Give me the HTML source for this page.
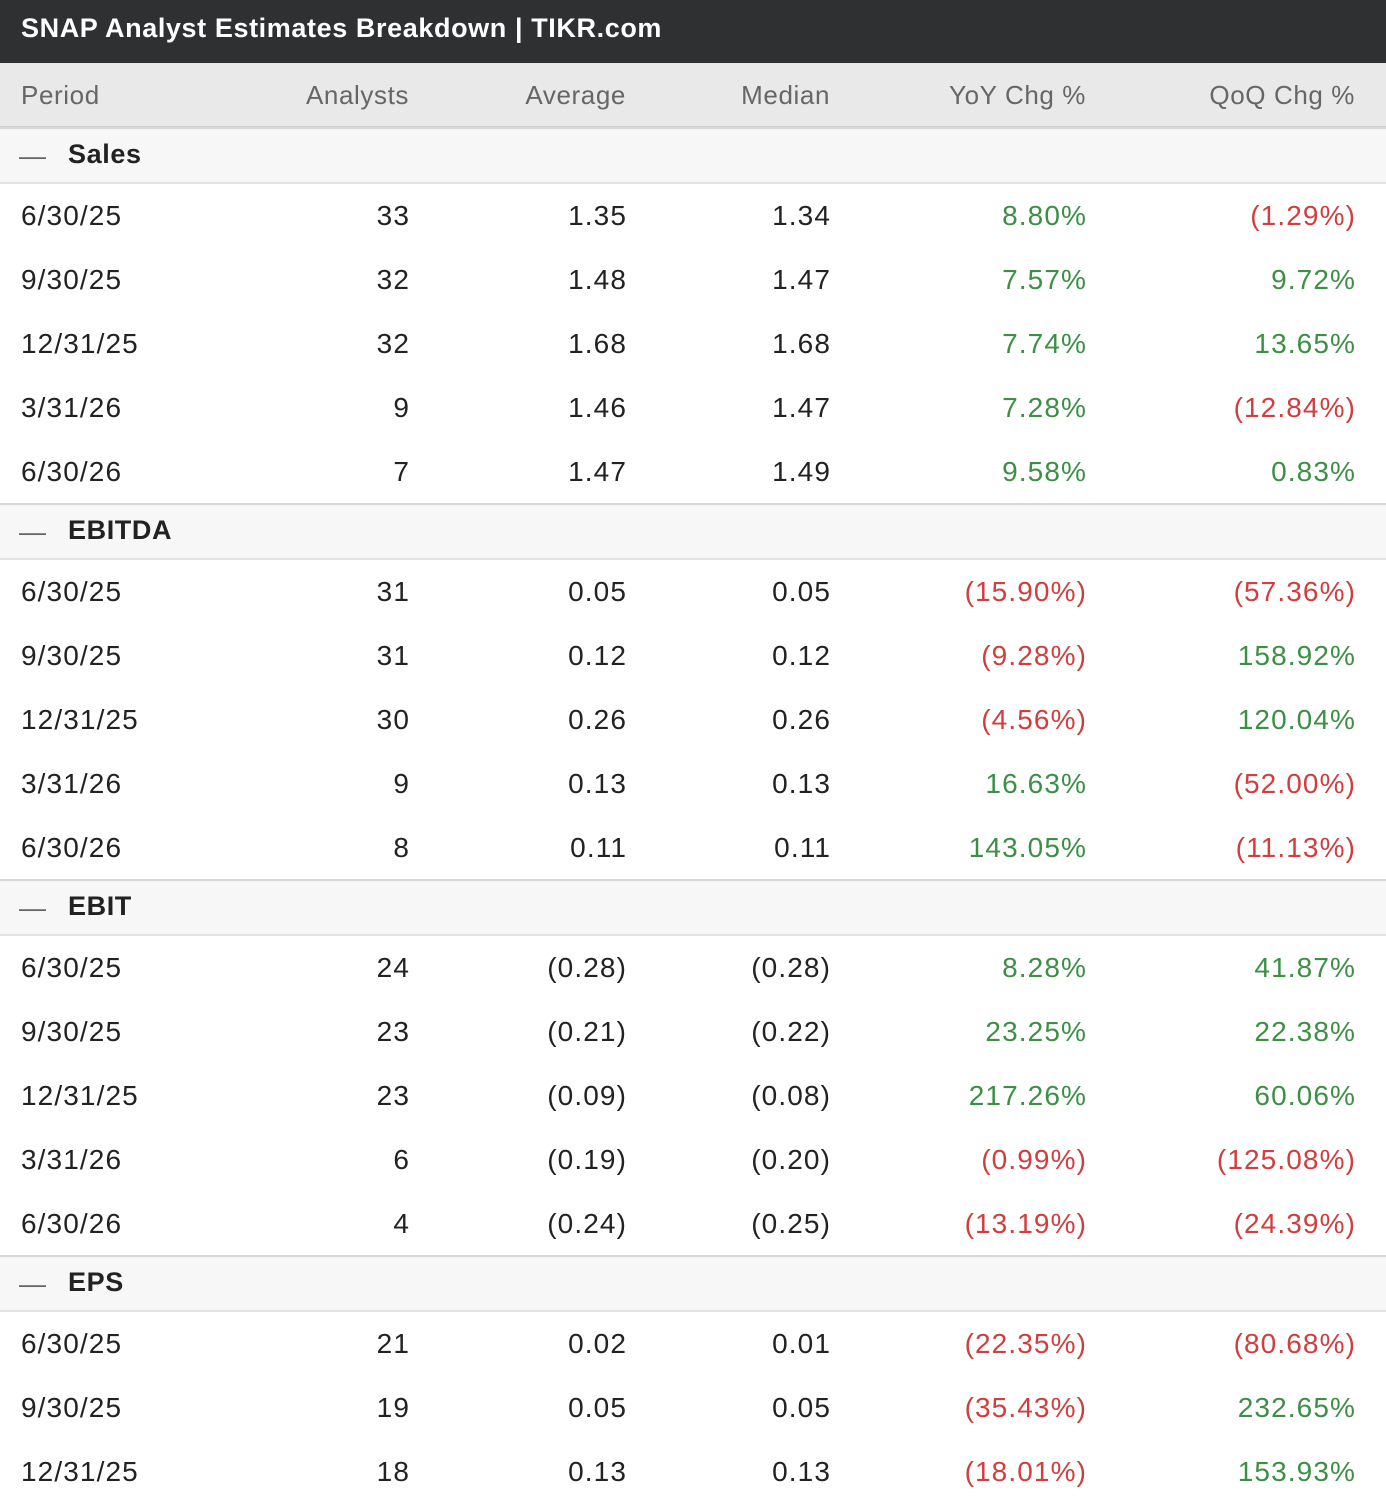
<!DOCTYPE html>
<html><head><meta charset="utf-8"><style>
body{margin:0;width:1386px;height:1498px;overflow:hidden;background:#fff;font-family:"Liberation Sans",sans-serif;position:relative}
.title{position:absolute;left:0;top:0;width:1386px;height:63px;background:#2f3032;color:#fff;font-weight:bold;font-size:27px;line-height:56px;padding-left:21px;box-sizing:border-box;letter-spacing:0.6px}
.hdr{position:absolute;left:0;top:63px;width:1386px;height:63px;background:#e9e9e9;border-bottom:2px solid #d0d0d0;color:#666;font-size:26px;letter-spacing:0.6px}
.c{position:absolute;white-space:nowrap}
.sec{position:absolute;left:0;width:1386px;height:53px;background:#f7f7f7;border-top:2px solid #d8d8d8;border-bottom:2px solid #e2e2e2;font-size:27px;font-weight:bold;color:#222}
.row{position:absolute;left:0;width:1386px;height:64px;font-size:28px;color:#222;letter-spacing:1.1px}
.g{color:#3d8f46}.r{color:#d03e3e}
</style></head><body>
<div class="title">SNAP Analyst Estimates Breakdown | TIKR.com</div>
<div class="hdr">
<span class="c" style="left:21px;top:17px">Period</span>
<span class="c" style="right:977px;top:17px">Analysts</span>
<span class="c" style="right:760px;top:17px">Average</span>
<span class="c" style="right:556px;top:17px">Median</span>
<span class="c" style="right:300px;top:17px">YoY Chg %</span>
<span class="c" style="right:31px;top:17px">QoQ Chg %</span>
</div>
<div id="body"></div>
<script>
const sections=["Sales","EBITDA","EBIT","EPS"];
const periods=[["6/30/25","9/30/25","12/31/25","3/31/26","6/30/26"],["6/30/25","9/30/25","12/31/25","3/31/26","6/30/26"],["6/30/25","9/30/25","12/31/25","3/31/26","6/30/26"],["6/30/25","9/30/25","12/31/25"]];
const analysts=[[33,32,32,9,7],[31,31,30,9,8],[24,23,23,6,4],[21,19,18]];
const averages=[["1.35","1.48","1.68","1.46","1.47"],["0.05","0.12","0.26","0.13","0.11"],["(0.28)","(0.21)","(0.09)","(0.19)","(0.24)"],["0.02","0.05","0.13"]];
const medians=[["1.34","1.47","1.68","1.47","1.49"],["0.05","0.12","0.26","0.13","0.11"],["(0.28)","(0.22)","(0.08)","(0.20)","(0.25)"],["0.01","0.05","0.13"]];
const yoy=[["8.80%","7.57%","7.74%","7.28%","9.58%"],["(15.90%)","(9.28%)","(4.56%)","16.63%","143.05%"],["8.28%","23.25%","217.26%","(0.99%)","(13.19%)"],["(22.35%)","(35.43%)","(18.01%)"]];
const qoq=[["(1.29%)","9.72%","13.65%","(12.84%)","0.83%"],["(57.36%)","158.92%","120.04%","(52.00%)","(11.13%)"],["41.87%","22.38%","60.06%","(125.08%)","(24.39%)"],["(80.68%)","232.65%","153.93%"]];
const body=document.getElementById('body');
let y=127;
function cell(parent,txt,pos,cls){const s=document.createElement('span');s.className='c '+(cls||'');s.textContent=txt;s.style.top='16px';if(pos.l!=null)s.style.left=pos.l+'px';else s.style.right=pos.r+'px';parent.appendChild(s);return s;}
sections.forEach((name,i)=>{
 const sec=document.createElement('div');sec.className='sec';sec.style.top=y+'px';
 
 
 sec.innerHTML='<span class="c" style="left:19px;top:12px;font-weight:normal;color:#666">—</span><span class="c" style="left:68px;top:10px;letter-spacing:0.6px">'+name+'</span>';
 body.appendChild(sec);y+=57;
 periods[i].forEach((p,j)=>{
  const r=document.createElement('div');r.className='row';r.style.top=y+'px';
  
  
  cell(r,p,{l:21});cell(r,String(analysts[i][j]),{r:976});cell(r,averages[i][j],{r:759});cell(r,medians[i][j],{r:555});
  cell(r,yoy[i][j],{r:299},yoy[i][j][0]=='('?'r':'g');cell(r,qoq[i][j],{r:30},qoq[i][j][0]=='('?'r':'g');
  body.appendChild(r);y+=64;
 });
 y-=1;
});
</script>
</body></html>
